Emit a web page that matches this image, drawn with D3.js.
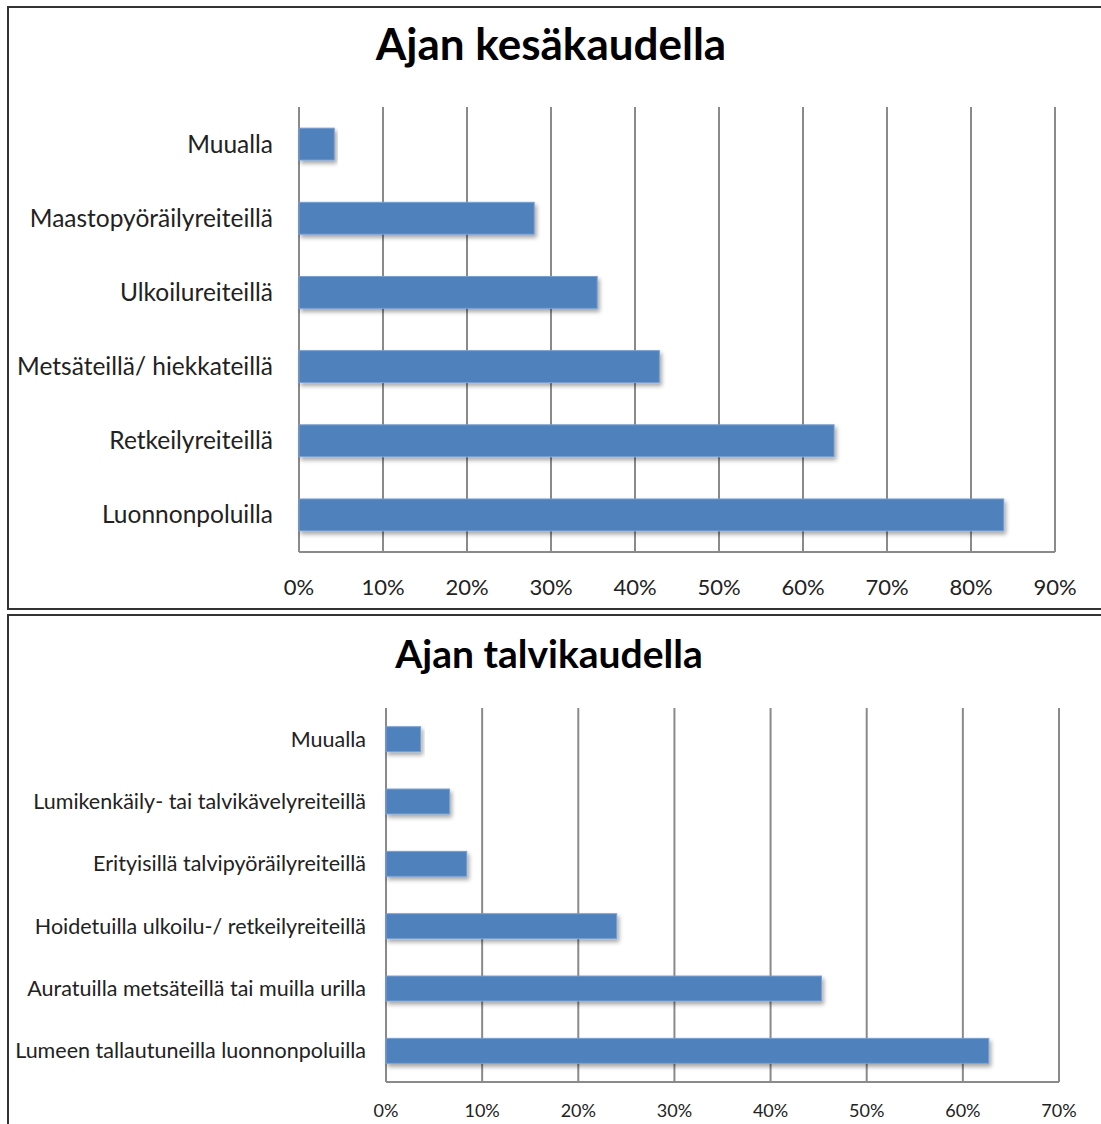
<!DOCTYPE html>
<html>
<head>
<meta charset="utf-8">
<script src="https://cdn.jsdelivr.net/npm/d3@7"></script>
<style>
  body { margin: 0; background: #fff; }
  svg { display: block; }
  text { font-family: Lato, "Open Sans", sans-serif; fill: #222; }
</style>
</head>
<body>
<svg id="chart" width="1101" height="1124"></svg>
<script>
// summer chart data
var summerTitle = "Ajan kesäkaudella";
var summerCats = ["Muualla", "Maastopyöräilyreiteillä", "Ulkoilureiteillä",
  "Metsäteillä/ hiekkateillä", "Retkeilyreiteillä", "Luonnonpoluilla"];
var summerVals = [4.2, 28.0, 35.5, 42.9, 63.7, 83.9];
var summerTicks = [0, 10, 20, 30, 40, 50, 60, 70, 80, 90];

// winter chart data
var winterTitle = "Ajan talvikaudella";
var winterCats = ["Muualla", "Lumikenkäily- tai talvikävelyreiteillä", "Erityisillä talvipyöräilyreiteillä",
  "Hoidetuilla ulkoilu-/ retkeilyreiteillä", "Auratuilla metsäteillä tai muilla urilla", "Lumeen tallautuneilla luonnonpoluilla"];
var winterVals = [3.6, 6.6, 8.4, 24.0, 45.3, 62.7];
var winterTicks = [0, 10, 20, 30, 40, 50, 60, 70];

var svg = d3.select("#chart");

var defs = svg.append("defs");
var f = defs.append("filter").attr("id", "shadow")
  .attr("x", "-5%").attr("y", "-30%").attr("width", "115%").attr("height", "180%");
f.append("feDropShadow").attr("dx", 2).attr("dy", 3).attr("stdDeviation", 2)
  .attr("flood-color", "#000").attr("flood-opacity", 0.35);

function drawPanel(opt) {
  var g = svg.append("g");

  // frame
  g.append("rect")
    .attr("x", opt.box[0]).attr("y", opt.box[1])
    .attr("width", opt.box[2]).attr("height", opt.box[3])
    .attr("fill", "#fff").attr("stroke", "#333").attr("stroke-width", 2);

  g.append("text")
    .attr("x", opt.titleX).attr("y", opt.titleY)
    .attr("text-anchor", "middle")
    .style("font-size", opt.titleSize + "px").style("font-weight", "bold")
    .style("fill", "#000")
    .text(opt.title);

  var x = d3.scaleLinear().domain([0, d3.max(opt.ticks)]).range([opt.left, opt.right]);
  var y = d3.scaleBand().domain(opt.cats).range([opt.top, opt.bottom]).paddingInner(opt.pad).paddingOuter(opt.pad / 2);

  // gridlines
  g.append("g").selectAll("line").data(opt.ticks).join("line")
    .attr("x1", d => x(d)).attr("x2", d => x(d))
    .attr("y1", opt.top).attr("y2", opt.bottom)
    .attr("stroke", "#8a8a8a").attr("stroke-width", 2);

  g.append("line")
    .attr("x1", opt.left).attr("x2", opt.right)
    .attr("y1", opt.bottom).attr("y2", opt.bottom)
    .attr("stroke", "#8a8a8a").attr("stroke-width", 2);

  // bars
  g.append("g").selectAll("rect").data(opt.vals).join("rect")
    .attr("x", opt.left)
    .attr("y", (d, i) => y(opt.cats[i]))
    .attr("width", d => x(d) - opt.left)
    .attr("height", y.bandwidth())
    .attr("fill", "#4f81bd")
    .attr("stroke", "#7aa0d0").attr("stroke-width", 1)
    .attr("filter", "url(#shadow)");

  // category labels
  g.append("g").selectAll("text").data(opt.cats).join("text")
    .attr("x", opt.labelX)
    .attr("y", d => y(d) + y.bandwidth() / 2)
    .attr("dy", "0.35em")
    .attr("text-anchor", "end")
    .style("font-size", opt.labelSize + "px")
    .text(d => d);

  // tick labels
  g.append("g").selectAll("text").data(opt.ticks).join("text")
    .attr("x", d => x(d))
    .attr("y", opt.tickY)
    .attr("text-anchor", "middle")
    .style("font-size", opt.tickSize + "px")
    .text(d => d + "%");
}

drawPanel({
  box: [8, 7, 1100, 602],
  title: summerTitle, titleX: 551, titleY: 60, titleSize: 44,
  cats: summerCats, vals: summerVals, ticks: summerTicks,
  left: 299, right: 1055, top: 107, bottom: 552, pad: 0.57,
  labelX: 273, labelSize: 24.5, tickY: 595, tickSize: 22
});

drawPanel({
  box: [8, 615, 1100, 520],
  title: winterTitle, titleX: 549, titleY: 668, titleSize: 39,
  cats: winterCats, vals: winterVals, ticks: winterTicks,
  left: 386, right: 1059, top: 708, bottom: 1082, pad: 0.6,
  labelX: 366, labelSize: 21.5, tickY: 1117, tickSize: 18
});
</script>
</body>
</html>
